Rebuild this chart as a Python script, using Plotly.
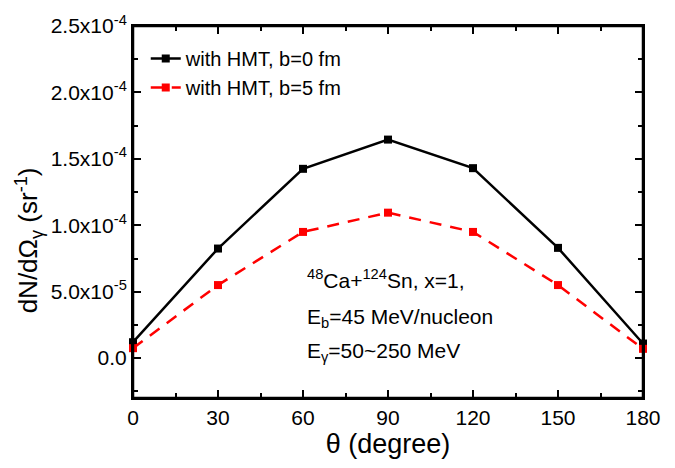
import plotly.graph_objects as go

theta = [0, 30, 60, 90, 120, 150, 180]
b0 = [1.2e-5, 8.25e-5, 1.425e-4, 1.645e-4, 1.43e-4, 8.3e-5, 1.1e-5]
b5 = [7.5e-6, 5.5e-5, 9.5e-5, 1.095e-4, 9.5e-5, 5.5e-5, 7e-6]
ytickvals = [0, 5e-5, 1e-4, 1.5e-4, 2e-4, 2.5e-4]
yticktext = ["0.0", "5.0x10<sup>-5</sup>", "1.0x10<sup>-4</sup>", "1.5x10<sup>-4</sup>",
             "2.0x10<sup>-4</sup>", "2.5x10<sup>-4</sup>"]
xtickvals = [0, 30, 60, 90, 120, 150, 180]
xrange_ = [0, 180]
yrange_ = [-3e-5, 2.5e-4]

FONT = "Liberation Sans"

fig = go.Figure()
fig.add_trace(go.Scatter(x=theta, y=b0, mode="lines+markers", name="with HMT, b=0 fm",
                         line=dict(color="black", width=2.5),
                         marker=dict(symbol="square", size=8, color="black"), cliponaxis=False))
fig.add_trace(go.Scatter(x=theta, y=b5, mode="lines+markers", name="with HMT, b=5 fm",
                         line=dict(color="red", width=2.5, dash="12px,9px"),
                         marker=dict(symbol="square", size=8, color="red"), cliponaxis=False))

common = dict(showline=True, linecolor="black", linewidth=2,
              ticks="inside", ticklen=8, tickwidth=2, tickcolor="black",
              showgrid=False, zeroline=False,
              tickfont=dict(family=FONT, size=21, color="black"))
xminor = dict(ticks="inside", ticklen=5, tickwidth=2, tickcolor="black", dtick=15, tick0=0)
yminor = dict(ticks="inside", ticklen=5, tickwidth=2, tickcolor="black", dtick=2.5e-5, tick0=0)

fig.update_layout(
    xaxis=dict(range=xrange_, tickvals=xtickvals, minor=xminor,
               title=dict(text="θ (degree)", font=dict(family=FONT, size=27, color="black"), standoff=4),
               **common),
    yaxis=dict(range=yrange_, tickvals=ytickvals, ticktext=yticktext, minor=yminor, **common),
    xaxis2=dict(range=xrange_, tickvals=xtickvals, minor=xminor, overlaying="x", side="top",
                anchor="y", showticklabels=False, **common),
    yaxis2=dict(range=yrange_, tickvals=ytickvals, minor=yminor, overlaying="y", side="right",
                anchor="x", showticklabels=False, **common),
)
fig.add_trace(go.Scatter(x=[theta[0]], y=[b0[0]], xaxis="x2", yaxis="y2", mode="markers",
                         marker=dict(opacity=0), showlegend=False, hoverinfo="skip"))

# frame around the plotting area
fig.add_shape(type="rect", xref="paper", yref="paper", x0=0, y0=0, x1=1, y1=1,
              line=dict(color="black", width=2.5), layer="above")

fig.add_annotation(x=-0.205, y=0.425, xref="paper", yref="paper", xanchor="center", yanchor="middle",
                   text="dN/dΩ<sub>γ</sub> (sr<sup>-1</sup>)", textangle=-90, showarrow=False,
                   font=dict(family=FONT, size=26, color="black"))

ann_font = dict(family=FONT, size=21, color="black")
fig.add_annotation(x=0.338, y=0.32, xref="paper", yref="paper", xanchor="left", yanchor="middle",
                   text="<sup>48</sup>Ca+<sup>124</sup>Sn, x=1,", showarrow=False, font=ann_font)
fig.add_annotation(x=0.338, y=0.215, xref="paper", yref="paper", xanchor="left", yanchor="middle",
                   text="E<sub>b</sub>=45 MeV/nucleon", showarrow=False, font=ann_font)
fig.add_annotation(x=0.338, y=0.125, xref="paper", yref="paper", xanchor="left", yanchor="middle",
                   text="E<sub>γ</sub>=50~250 MeV", showarrow=False, font=ann_font)

fig.update_layout(width=675, height=468, margin=dict(l=133, r=32, t=22, b=70),
                  plot_bgcolor="white", paper_bgcolor="white",
                  legend=dict(x=0.025, y=0.965, xanchor="left", yanchor="top",
                              bgcolor="rgba(0,0,0,0)", font=dict(family=FONT, size=20, color="black"),
                              tracegroupgap=0),
                  font=dict(family=FONT))

fig.write_html("out.html")
